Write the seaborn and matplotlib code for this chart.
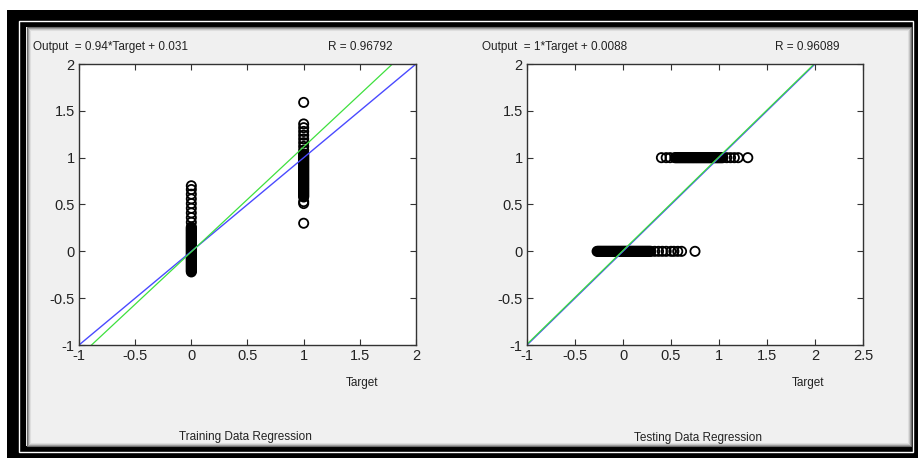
import matplotlib
matplotlib.use("Agg")
import matplotlib.pyplot as plt
from matplotlib.patches import Rectangle
import seaborn as sns
import pandas as pd
import numpy as np

# --- data ---
# training panel: outputs stacked at target 0 and target 1
train_out_t0 = [-0.22, -0.21, -0.20, -0.19, -0.18, -0.17, -0.16, -0.15, -0.14,
                -0.13, -0.12, -0.11, -0.10, -0.09, -0.08, -0.07, -0.06, -0.05,
                -0.04, -0.03, -0.02, -0.01, 0.00, 0.01, 0.02, 0.03, 0.04, 0.05,
                0.06, 0.07, 0.08, 0.09, 0.10, 0.11, 0.12, 0.13, 0.14, 0.15,
                0.16, 0.17, 0.18, 0.19, 0.20, 0.21, 0.22, 0.23, 0.24, 0.25, 0.26,
                0.31, 0.36, 0.41, 0.46, 0.51, 0.56, 0.61, 0.66, 0.70]
train_out_t1 = [1.59,
                1.36, 1.32, 1.28, 1.24, 1.20, 1.16, 1.12, 1.08,
                1.04, 1.03, 1.02, 1.01, 1.00, 0.99, 0.98, 0.97, 0.96, 0.95,
                0.94, 0.93, 0.92, 0.91, 0.90, 0.89, 0.88, 0.87, 0.86, 0.85,
                0.84, 0.83, 0.82, 0.81, 0.80, 0.79, 0.78, 0.77, 0.76, 0.75,
                0.74, 0.73, 0.72, 0.71, 0.70, 0.69, 0.68, 0.67, 0.66, 0.65,
                0.64, 0.63, 0.62, 0.61, 0.60, 0.59, 0.58,
                0.53, 0.51, 0.30]
# testing panel: targets spread along the output 0 and output 1 rows
test_tgt_o0 = [-0.27, -0.26, -0.25, -0.24, -0.23, -0.22, -0.21, -0.20, -0.19,
               -0.18, -0.17, -0.16, -0.15, -0.14, -0.13, -0.12, -0.11, -0.10,
               -0.09, -0.08, -0.07, -0.06, -0.05, -0.04, -0.03, -0.02, -0.01,
               0.00, 0.01, 0.02, 0.03, 0.04, 0.05, 0.06, 0.07, 0.08, 0.09,
               0.10, 0.11, 0.12, 0.13, 0.14, 0.15, 0.16, 0.17, 0.18, 0.19,
               0.20, 0.21, 0.22, 0.23, 0.24, 0.25, 0.26, 0.27, 0.28, 0.29,
               0.33, 0.37, 0.41, 0.45, 0.50, 0.53, 0.57, 0.61, 0.75]
test_tgt_o1 = [0.40, 0.45, 0.49,
               0.54, 0.55, 0.56, 0.57, 0.58, 0.59, 0.60, 0.61, 0.62, 0.63,
               0.64, 0.65, 0.66, 0.67, 0.68, 0.69, 0.70, 0.71, 0.72, 0.73,
               0.74, 0.75, 0.76, 0.77, 0.78, 0.79, 0.80, 0.81, 0.82, 0.83,
               0.84, 0.85, 0.86, 0.87, 0.88, 0.89, 0.90, 0.91, 0.92, 0.93,
               0.94, 0.95, 0.96, 0.97, 0.98, 0.99, 1.00, 1.01, 1.02, 1.03, 1.04,
               1.08, 1.12, 1.16, 1.20, 1.30]

# fitted lines (as drawn) and identity line
train_fit = (1.12, -0.005)
test_fit = (1.0, 0.0088)
line_x = [-1, 2]

train_title = "Output  = 0.94*Target + 0.031"
train_r = "R = 0.96792"
test_title = "Output  = 1*Target + 0.0088"
test_r = "R = 0.96089"

ticks_y = [-1, -0.5, 0, 0.5, 1, 1.5, 2]
ticks_x_train = [-1, -0.5, 0, 0.5, 1, 1.5, 2]
ticks_x_test = [-1, -0.5, 0, 0.5, 1, 1.5, 2, 2.5]

sns.set_theme(style="white")
plt.rcParams["font.family"] = ["Liberation Sans", "DejaVu Sans"]

W, H = 918, 461
fig = plt.figure(figsize=(W / 100, H / 100), dpi=100, facecolor="white")


def px(x0, y0, x1, y1):
    # pixel box (top-left origin) -> figure rect
    return (x0 / W, 1 - y1 / H, (x1 - x0) / W, (y1 - y0) / H)


def frame_rect(x0, y0, x1, y1, z=-10, **kw):
    l, b, w, h = px(x0, y0, x1, y1)
    fig.patches.append(Rectangle((l, b), w, h, transform=fig.transFigure,
                                 zorder=z, **kw))


# window frame with a soft inner shadow
frame_rect(7, 10, 918, 458, facecolor="black", edgecolor="none")
frame_rect(19, 21.5, 913, 452, facecolor="none", edgecolor="white", linewidth=1.0)
frame_rect(26, 27, 911, 446, facecolor="#f0f0f0", edgecolor="none")
for i, c in enumerate(["#6a6a6a", "#9a9a9a", "#c4c4c4", "#dedede"]):
    frame_rect(26.5 + i, 27.5 + i, 910.5 - i, 445.5 - i, z=-9,
               facecolor="none", edgecolor=c, linewidth=0.8)

ax1 = fig.add_axes(px(79, 64, 416, 345))
ax2 = fig.add_axes(px(527, 64, 863, 345))

txt = "#222222"
df_train = pd.DataFrame({"Target": [0] * len(train_out_t0) + [1] * len(train_out_t1),
                         "Output": train_out_t0 + train_out_t1})
df_test = pd.DataFrame({"Target": test_tgt_o0 + test_tgt_o1,
                        "Output": [0] * len(test_tgt_o0) + [1] * len(test_tgt_o1)})

for ax, df, fit, xt in [(ax1, df_train, train_fit, ticks_x_train),
                        (ax2, df_test, test_fit, ticks_x_test)]:
    lx = np.array(line_x, dtype=float)
    sns.scatterplot(data=df, x="Target", y="Output", ax=ax, marker="o",
                    facecolor="none", edgecolor="black", linewidth=1.3, s=44,
                    zorder=2)
    sns.lineplot(x=lx, y=lx, ax=ax, color="#4a4aff", linewidth=1.0, zorder=4)
    sns.lineplot(x=lx, y=fit[0] * lx + fit[1], ax=ax, color="#3ee03e",
                 linewidth=0.9, zorder=5)
    ax.set_xlim(xt[0], xt[-1])
    ax.set_ylim(-1, 2)
    ax.set_xticks(xt)
    ax.set_xticklabels([f"{v:g}" for v in xt])
    ax.set_yticks(ticks_y)
    ax.set_yticklabels([f"{v:g}" for v in ticks_y])
    ax.set_xlabel("")
    ax.set_ylabel("")
    ax.set_facecolor("white")
    ax.tick_params(direction="in", top=True, right=True, bottom=True, left=True,
                   length=4, width=0.8, colors="#333333", labelcolor=txt,
                   labelsize=10.5, pad=3)
    for s in ax.spines.values():
        s.set_visible(True)
        s.set_color("#333333")
        s.set_linewidth(1.0)
        s.set_zorder(6)
    if ax.get_legend():
        ax.get_legend().remove()

fs = 8.5
fig.text(33 / W, 1 - 47 / H, train_title, fontsize=fs, color=txt, va="center")
fig.text(328 / W, 1 - 47 / H, train_r, fontsize=fs, color=txt, va="center")
fig.text(482 / W, 1 - 47 / H, test_title, fontsize=fs, color=txt, va="center")
fig.text(775 / W, 1 - 47 / H, test_r, fontsize=fs, color=txt, va="center")
fig.text(362 / W, 1 - 383 / H, "Target", fontsize=fs, color=txt, ha="center", va="center")
fig.text(808 / W, 1 - 383 / H, "Target", fontsize=fs, color=txt, ha="center", va="center")
fig.text(245 / W, 1 - 437 / H, "Training Data Regression", fontsize=fs, color=txt,
         ha="center", va="center")
fig.text(698 / W, 1 - 438 / H, "Testing Data Regression", fontsize=fs, color=txt,
         ha="center", va="center")

fig.savefig("out.png", dpi=100, facecolor=fig.get_facecolor())
